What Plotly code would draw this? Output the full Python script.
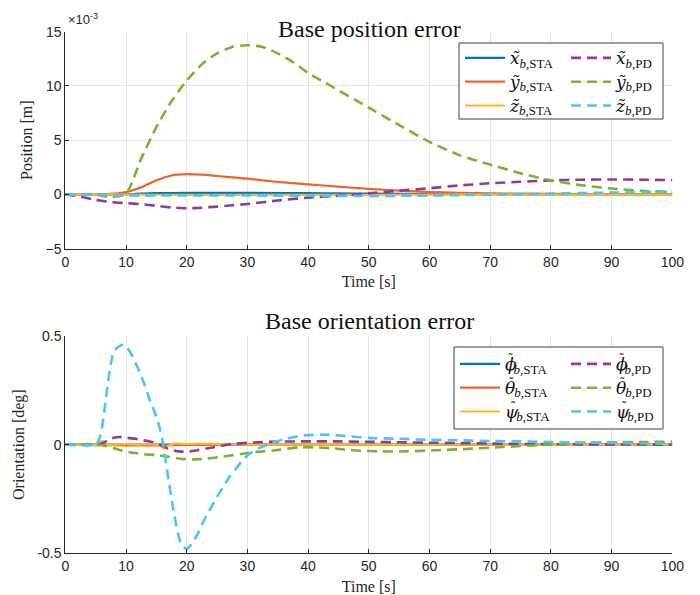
import plotly.graph_objects as go

W, H = 700, 595

# ---------------- Base position error (units of 1e-3 m) ----------------
t_xsta = [0, 5, 10, 12.5, 15, 20, 30, 40, 45, 50, 60, 70, 80, 90, 100]
x_sta = [0, 0, 0.02, 0.08, 0.12, 0.14, 0.14, 0.12, 0.1, 0.07, 0.04, 0.02, 0.01, 0.01, 0.0]

t_ysta = [0, 5, 7.5, 10, 12.5, 15, 17.5, 20, 22.5, 25, 30, 35, 40, 45, 50, 55, 60, 65, 70, 80, 90, 100]
y_sta = [0, 0, 0.05, 0.22, 0.65, 1.3, 1.75, 1.87, 1.82, 1.7, 1.45, 1.15, 0.93, 0.72, 0.52, 0.35,
         0.22, 0.15, 0.1, 0.05, 0.03, 0.02]

t_zsta = [0, 10, 20, 30, 40, 50, 60, 70, 80, 90, 100]
z_sta = [0, -0.02, -0.03, -0.03, -0.03, -0.03, -0.02, -0.02, -0.02, -0.02, -0.02]

t_xpd = [0, 2.5, 5, 7.5, 10, 12.5, 15, 17.5, 20, 22.5, 25, 27.5, 30, 35, 40, 45, 50, 55, 60,
         65, 70, 75, 80, 85, 90, 95, 100]
x_pd = [0, -0.2, -0.5, -0.7, -0.8, -0.9, -1.05, -1.2, -1.28, -1.22, -1.12, -1.0, -0.88, -0.56,
        -0.3, -0.12, 0.1, 0.35, 0.57, 0.83, 1.03, 1.17, 1.3, 1.36, 1.38, 1.36, 1.32]

t_ypd = [0, 2.5, 5, 7.5, 10, 12.5, 15, 17.5, 20, 22.5, 25, 27.5, 30, 32.5, 35, 37.5, 40, 42.5,
         45, 47.5, 50, 55, 60, 65, 70, 75, 80, 85, 90, 95, 100]
y_pd = [0, 0, 0, -0.25, 0.05, 3.3, 6.2, 8.6, 10.5, 12.0, 13.0, 13.6, 13.75, 13.6, 13.0, 12.2,
        11.2, 10.4, 9.6, 8.8, 8.0, 6.4, 4.85, 3.6, 2.75, 1.95, 1.3, 0.85, 0.55, 0.33, 0.24]

t_zpd = [0, 5, 10, 20, 30, 40, 50, 60, 70, 80, 90, 100]
z_pd = [0, -0.05, -0.1, -0.1, -0.1, -0.12, -0.15, -0.1, -0.02, 0.08, 0.17, 0.24]

pos_ticks = [-5, 0, 5, 10, 15]

# ---------------- Base orientation error (deg) ----------------
t_phista = [0, 20, 40, 60, 80, 100]
phi_sta = [0, 0, 0, 0, 0, 0]

t_thsta = [0, 5, 10, 15, 20, 30, 100]
th_sta = [0, -0.002, -0.003, -0.003, -0.001, 0, 0]

t_psista = [0, 5, 5.5, 6, 6.5, 7, 8, 10, 12, 14, 15.5, 16.2, 17, 18, 20, 22, 25, 30, 100]
psi_sta = [0, 0, 0.005, 0.018, 0.01, -0.002, 0.0, 0.003, 0.0, 0.002, -0.005, -0.018, -0.005,
           0.005, 0.003, 0.005, 0.002, 0.0, 0.0]

t_phipd = [0, 5, 6, 7, 8, 9, 10, 12, 14, 15, 16, 17, 18, 19, 20.5, 22, 24, 26, 28, 31, 35, 40,
           45, 50, 55, 60, 65, 70, 80, 90, 100]
phi_pd = [0, 0, 0.005, 0.02, 0.032, 0.035, 0.032, 0.025, 0.014, 0.008, -0.005, -0.02, -0.028,
          -0.032, -0.031, -0.024, -0.014, -0.004, 0.004, 0.01, 0.014, 0.015, 0.015, 0.013, 0.011,
          0.009, 0.007, 0.005, 0.002, 0.001, 0.0]

t_thpd = [0, 5, 6, 7.5, 9, 11, 13, 15, 17, 19, 21, 23, 26, 29, 31, 35, 38.5, 41, 44, 48, 52, 56,
          61, 66, 72, 78, 84, 90, 95, 100]
th_pd = [0, 0, -0.002, -0.012, -0.025, -0.037, -0.044, -0.048, -0.056, -0.065, -0.068, -0.065,
         -0.055, -0.043, -0.035, -0.025, -0.012, -0.012, -0.017, -0.027, -0.031, -0.031, -0.026,
         -0.02, -0.011, -0.002, 0.007, 0.011, 0.012, 0.014]

t_psipd = [0, 5, 5.5, 6, 6.5, 7, 7.5, 8, 9, 9.5, 10, 11, 12, 13, 14, 15, 15.5, 16, 16.5, 17,
           18, 19, 20, 21, 22, 23, 24, 25, 26, 27, 28, 29, 30, 32, 34, 36, 39, 43, 47, 50, 55,
           60, 65, 70, 75, 80, 85, 90, 95, 100]
psi_pd = [0, 0, 0.02, 0.07, 0.17, 0.28, 0.37, 0.43, 0.455, 0.46, 0.455, 0.41, 0.35, 0.28, 0.2,
          0.13, 0.08, 0.02, -0.07, -0.16, -0.33, -0.45, -0.48, -0.45, -0.4, -0.34, -0.29, -0.24,
          -0.195, -0.15, -0.115, -0.08, -0.05, -0.015, 0.008, 0.025, 0.042, 0.046, 0.038, 0.031,
          0.027, 0.022, 0.02, 0.017, 0.015, 0.012, 0.01, 0.008, 0.006, 0.004]

ori_ticks = [-0.5, 0, 0.5]
time_ticks = list(range(0, 101, 10))

# MATLAB-like line colours
C_BLUE, C_ORANGE, C_YELLOW = "#0072BD", "#EE6428", "#FDB82A"
C_PURPLE, C_GREEN, C_CYAN = "#8E3C99", "#77B530", "#4BC6F0"

SERIF = "Liberation Serif, Times New Roman, serif"
SANS = "Liberation Sans, Helvetica, Arial, sans-serif"
INK = "#262626"


def px_x(p):
    return p / W


def px_y(p):
    return 1 - p / H


SUBFMT = "<sub><span style='font-size:13px'><i>b</i>,{}</span></sub>"


def lbl(sym, sub):
    # latin symbol with a combining tilde
    return (f"<span style='font-family:DejaVu Serif;font-size:17px'><i>{sym}\u0303</i></span>"
            + SUBFMT.format(sub))


def lbl_greek(sym, sub, pull):
    # tall greek letter: a small raised tilde is pulled back over the letter
    return (f"<span style='font-family:DejaVu Serif;font-size:17px;letter-spacing:-{pull}px'>"
            f"<i>{sym}</i></span>"
            f"<sup><span style='font-family:DejaVu Serif;font-size:12px'>\u02dc</span></sup>"
            + SUBFMT.format(sub))


fig = go.Figure()

solid = dict(width=2.2)
dashed = dict(width=2.6, dash="10px,6px")

series_top = [
    (t_xsta, x_sta, C_BLUE, solid, lbl("x", "STA"), "legend"),
    (t_ysta, y_sta, C_ORANGE, solid, lbl("y", "STA"), "legend"),
    (t_zsta, z_sta, C_YELLOW, solid, lbl("z", "STA"), "legend"),
    (t_xpd, x_pd, C_PURPLE, dashed, lbl("x", "PD"), "legend2"),
    (t_ypd, y_pd, C_GREEN, dashed, lbl("y", "PD"), "legend2"),
    (t_zpd, z_pd, C_CYAN, dashed, lbl("z", "PD"), "legend2"),
]
for t, v, c, ls, name, lg in series_top:
    fig.add_trace(go.Scatter(x=t, y=v, mode="lines", name=name, legend=lg,
                             line=dict(color=c, shape="spline", smoothing=0.6, **ls),
                             xaxis="x", yaxis="y"))

series_bot = [
    (t_phista, phi_sta, C_BLUE, solid, lbl_greek("\u03d5", "STA", 9), "legend3"),
    (t_thsta, th_sta, C_ORANGE, solid, lbl_greek("\u03b8", "STA", 7), "legend3"),
    (t_psista, psi_sta, C_YELLOW, solid, lbl_greek("\u03c8", "STA", 8), "legend3"),
    (t_phipd, phi_pd, C_PURPLE, dashed, lbl_greek("\u03d5", "PD", 9), "legend4"),
    (t_thpd, th_pd, C_GREEN, dashed, lbl_greek("\u03b8", "PD", 7), "legend4"),
    (t_psipd, psi_pd, C_CYAN, dashed, lbl_greek("\u03c8", "PD", 8), "legend4"),
]
for t, v, c, ls, name, lg in series_bot:
    fig.add_trace(go.Scatter(x=t, y=v, mode="lines", name=name, legend=lg,
                             line=dict(color=c, shape="spline", smoothing=0.6, **ls),
                             xaxis="x2", yaxis="y2"))

x_dom = [px_x(65.3), px_x(672.3)]
axis_common = dict(showline=True, linecolor=INK, linewidth=1, mirror=False,
                   ticks="inside", ticklen=4, tickcolor=INK, showgrid=True,
                   gridcolor="#E4E4E4", gridwidth=1, zeroline=False, automargin=False,
                   tickfont=dict(family=SANS, size=14, color=INK))

xa = dict(axis_common, domain=x_dom, range=[0, 100], tickvals=time_ticks,
          title=dict(text="Time [s]", font=dict(family=SERIF, size=16, color=INK), standoff=7))

leg_font = dict(family=SERIF, size=16, color="#111")
leg_common = dict(bgcolor="rgba(0,0,0,0)", borderwidth=0, font=leg_font,
                  xanchor="left", yanchor="top", itemwidth=40, tracegroupgap=0)

fig.update_layout(
    width=W, height=H,
    margin=dict(l=0, r=0, t=0, b=0, autoexpand=False),
    paper_bgcolor="white", plot_bgcolor="white",
    showlegend=True,
    xaxis=dict(xa, anchor="y"),
    yaxis=dict(axis_common, domain=[px_y(248.7), px_y(31.7)], range=[-5, 15],
               tickvals=pos_ticks, anchor="x",
               title=dict(text="Position [m]", font=dict(family=SERIF, size=16, color=INK),
                          standoff=8)),
    xaxis2=dict(xa, anchor="y2"),
    yaxis2=dict(axis_common, domain=[px_y(553.3), px_y(336)], range=[-0.5, 0.5],
                tickvals=ori_ticks, ticktext=["-0.5", "0", "0.5"], anchor="x2",
                title=dict(text="Orientation [deg]", font=dict(family=SERIF, size=16, color=INK),
                           standoff=8)),
    legend=dict(leg_common, x=px_x(460), y=px_y(41)),
    legend2=dict(leg_common, x=px_x(566), y=px_y(41)),
    legend3=dict(leg_common, x=px_x(455), y=px_y(347)),
    legend4=dict(leg_common, x=px_x(566), y=px_y(347)),
    shapes=[
        dict(type="rect", xref="paper", yref="paper", layer="above",
             x0=px_x(459), x1=px_x(663), y0=px_y(119), y1=px_y(43),
             line=dict(color="#404040", width=1), fillcolor="white"),
        dict(type="rect", xref="paper", yref="paper", layer="above",
             x0=px_x(454), x1=px_x(663), y0=px_y(429), y1=px_y(347),
             line=dict(color="#404040", width=1), fillcolor="white"),
    ],
    annotations=[
        dict(text="Base position error", x=px_x(369), y=px_y(14), xref="paper", yref="paper",
             showarrow=False, font=dict(family=SERIF, size=24, color="#111")),
        dict(text="Base orientation error", x=px_x(369), y=px_y(321), xref="paper",
             yref="paper", showarrow=False, font=dict(family=SERIF, size=24, color="#111")),
        dict(text="\u00d710<sup>-3</sup>", x=px_x(66), y=px_y(29), xref="paper", yref="paper",
             xanchor="left", yanchor="bottom", showarrow=False,
             font=dict(family=SANS, size=13, color=INK)),
    ],
)

fig.write_html("out.html")
